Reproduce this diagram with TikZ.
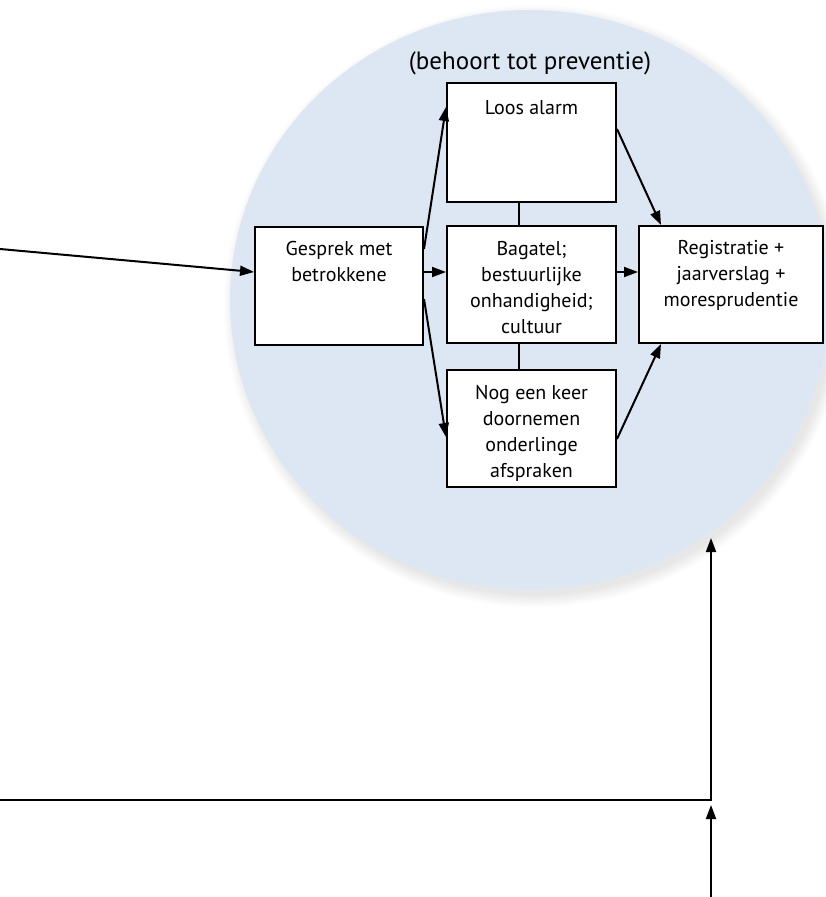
\documentclass[tikz,border=0pt]{standalone}
\usepackage{fontspec}
\setmainfont{PT Sans}
\usetikzlibrary{arrows.meta}
\definecolor{circfill}{RGB}{221,231,243}
\begin{document}
\begin{tikzpicture}[x=1pt,y=-1pt,
  box/.style={draw=black, line width=2pt, fill=white, inner sep=0pt},
  txt/.style={font=\fontsize{20}{26}\selectfont, align=center, inner sep=0pt, anchor=north},
  arr/.style={line width=2pt, -{Triangle[length=14pt,width=10pt]}},
  ln/.style={line width=2pt}]
\useasboundingbox (0,0) rectangle (825,897);
\fill[white] (0,0) rectangle (825,897);
% soft shadow of the circle
\foreach \i in {1,...,12} \fill[black, opacity=0.009] (535,306) ellipse ({298+\i*1.1} and {288+\i*1.1});
\fill[circfill] (530,300) ellipse (300 and 290);
\node[font=\fontsize{25}{30}\selectfont, anchor=base, inner sep=0pt] (title) at (530,69) {(behoort tot preventie)};
% boxes
\node[box, minimum width=169, minimum height=119] (loos) at (531.5,142.5) {};
\node[box, minimum width=168, minimum height=118] (g) at (339,286) {};
\node[box, minimum width=169, minimum height=117] (b) at (531.5,284.5) {};
\node[box, minimum width=169, minimum height=117] (nog) at (531.5,428.5) {};
\node[box, minimum width=184, minimum height=117] (r) at (731,284.5) {};
% texts
\node[txt] (tloos) at (531.5,100) {Loos alarm};
\node[txt] (tg) at (339,241) {Gesprek met\\betrokkene};
\node[txt] (tb) at (531.5,241) {Bagatel;\\bestuurlijke\\onhandigheid;\\cultuur};
\node[txt] (tnog) at (531.5,385) {Nog een keer\\doornemen\\onderlinge\\afspraken};
\node[txt] (tr) at (731,240) {Registratie +\\jaarverslag +\\moresprudentie};
% connectors
\coordinate (src) at (0,249);
\draw[arr] (src) -- ([yshift=-46]g.north west);
\draw[arr] ([yshift=-23]g.north east) -- ([yshift=-25]loos.north west);
\draw[arr] ([yshift=-46]g.north east) -- ([yshift=-47]b.north west);
\draw[arr] ([yshift=-73]g.north east) -- ([yshift=-68]nog.north west);
\draw[arr] ([yshift=-47]b.north east) -- ([yshift=-47]r.north west);
\draw[arr] ([yshift=-47]loos.north east) -- ([xshift=23]r.north west);
\draw[arr] ([yshift=-70]nog.north east) -- ([xshift=23]r.south west);
\draw[ln] ([xshift=-12.5]loos.south) -- ([xshift=-12.5]b.north);
\draw[ln] ([xshift=-12.5]b.south) -- ([xshift=-12.5]nog.north);
% bottom feedback lines
\coordinate (hl) at (0,800);
\coordinate (tip1) at (711,538);
\coordinate (bot) at (711,897);
\coordinate (tip2) at (711,805);
\draw[arr] (hl) -| (tip1);
\draw[arr] (bot) -- (tip2);
\end{tikzpicture}
\end{document}
